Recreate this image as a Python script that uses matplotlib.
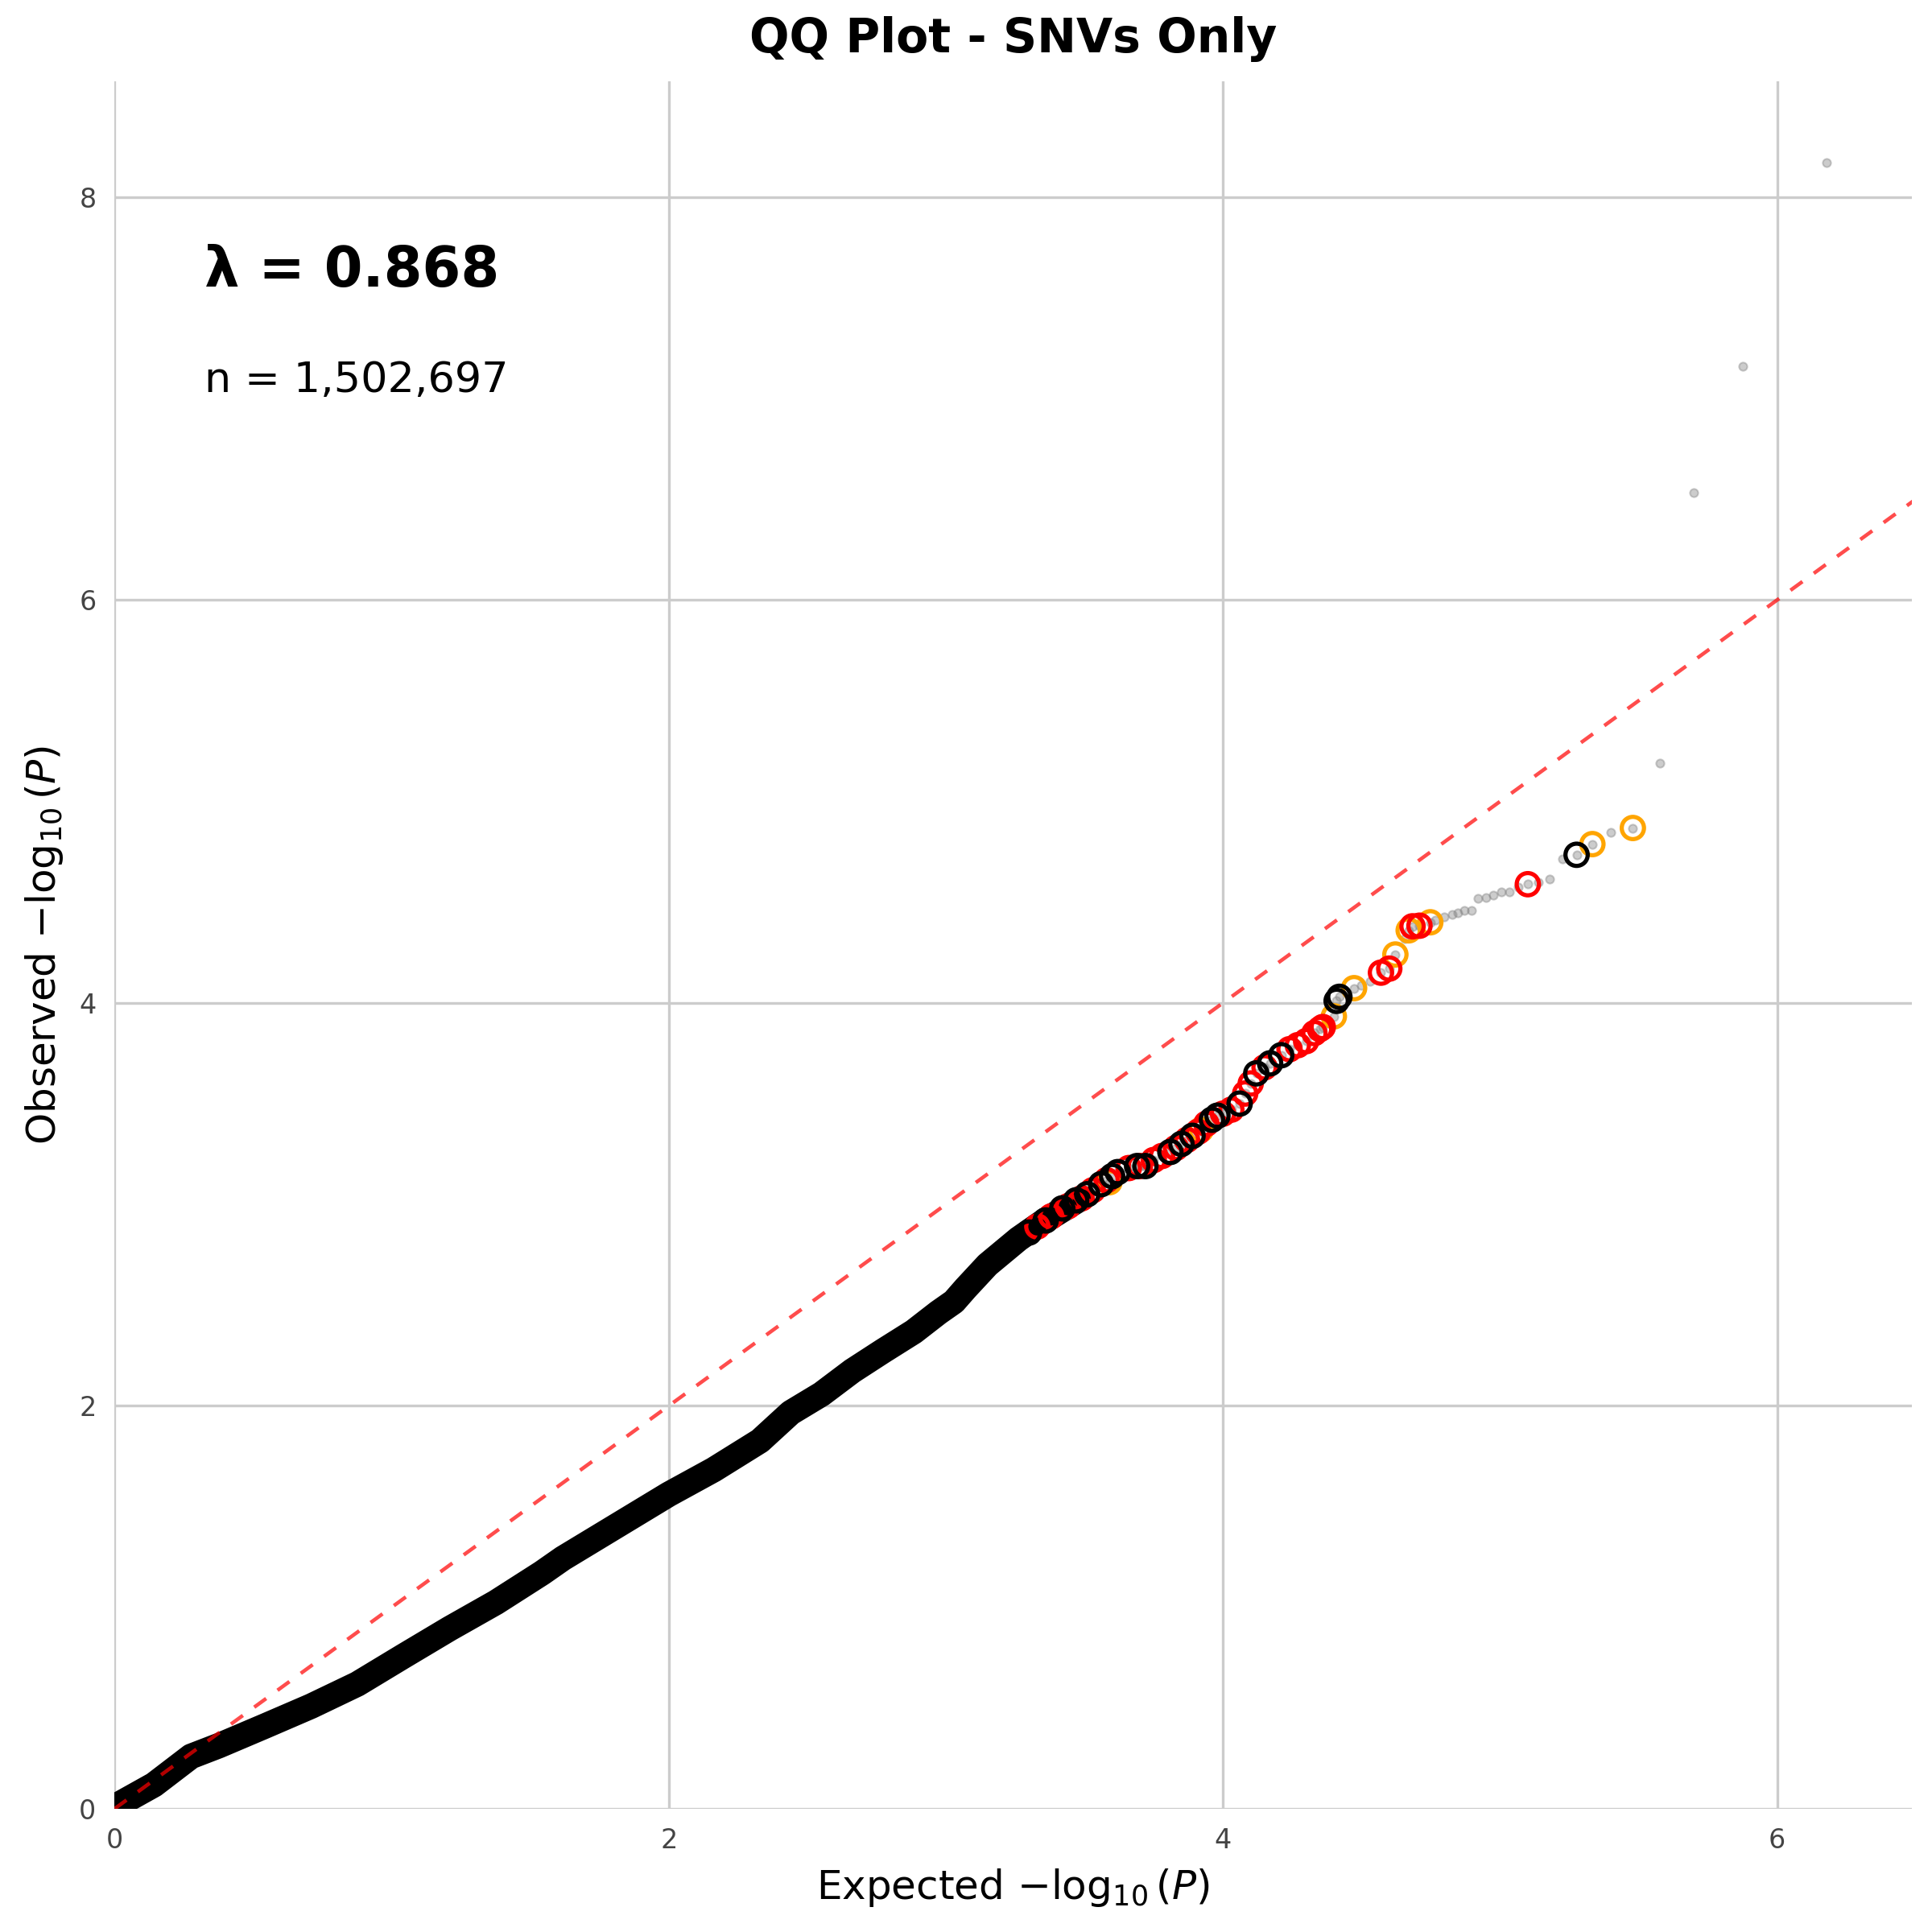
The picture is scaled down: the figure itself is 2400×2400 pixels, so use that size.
import matplotlib.pyplot as plt

# dense part of the QQ curve (expected, observed), read along the band centre
band_x = [0.0, 0.142, 0.276, 0.376, 0.542, 0.709, 0.876, 1.042, 1.209, 1.376, 1.542, 1.618,
          2.0, 2.162, 2.329, 2.44, 2.551, 2.662, 2.773, 2.884, 2.973, 3.029, 3.071, 3.15,
          3.262, 3.359, 3.485]
band_y = [0.01, 0.119, 0.26, 0.313, 0.41, 0.509, 0.619, 0.757, 0.894, 1.024, 1.17, 1.243,
          1.561, 1.683, 1.826, 1.966, 2.058, 2.173, 2.272, 2.368, 2.463, 2.517, 2.583, 2.70,
          2.828, 2.921, 3.028]

# tail points (grey dots)
gray_x = [4.50, 4.53, 4.656, 4.765, 4.798, 4.826, 4.848, 4.87, 4.896, 4.92, 4.948, 4.976,
          5.003, 5.033, 5.064, 5.137, 5.178, 5.226, 5.40, 5.578, 5.700, 5.876, 6.178]
gray_y = [4.087, 4.107, 4.32, 4.41, 4.426, 4.44, 4.446, 4.457, 4.46, 4.519, 4.523, 4.535,
          4.55, 4.55, 4.573, 4.60, 4.615, 4.716, 4.846, 5.19, 6.533, 7.158, 8.17]

# highlighted points
black_x = [3.30, 3.36, 3.42, 3.47, 3.51, 3.56, 3.60, 3.62, 3.69, 3.72, 3.81, 3.85, 3.89,
           3.96, 3.98, 4.06, 4.12, 4.17, 4.21, 4.41, 4.42, 5.276]
black_y = [2.86, 2.92, 2.98, 3.02, 3.05, 3.10, 3.14, 3.16, 3.19, 3.19, 3.26, 3.30, 3.34,
           3.42, 3.44, 3.50, 3.65, 3.70, 3.74, 4.01, 4.03, 4.735]
red_x = [3.33, 3.38, 3.44, 3.49, 3.53, 3.58, 3.66, 3.70, 3.75, 3.78, 3.83, 3.87, 3.91, 3.94,
         4.00, 4.03, 4.08, 4.10, 4.15, 4.24, 4.27, 4.30, 4.33, 4.35, 4.36, 4.57, 4.60,
         4.684, 4.709, 5.10]
red_y = [2.89, 2.94, 2.99, 3.03, 3.07, 3.12, 3.18, 3.19, 3.22, 3.24, 3.28, 3.32, 3.36, 3.40,
         3.45, 3.47, 3.55, 3.60, 3.68, 3.77, 3.79, 3.81, 3.85, 3.87, 3.88, 4.15, 4.17,
         4.38, 4.383, 4.589]
orange_x = [3.59, 3.92, 4.40, 4.473, 4.622, 4.67, 4.748, 5.333, 5.479]
orange_y = [3.11, 3.37, 3.933, 4.073, 4.24, 4.36, 4.40, 4.788, 4.868]

lambda_gc = 0.868
n_snv = 1502697
xticks = [0, 2, 4, 6]
yticks = [0, 2, 4, 6, 8]

fig, ax = plt.subplots(figsize=(8, 8), dpi=300)
fig.subplots_adjust(left=0.0593, right=0.9896, bottom=0.0638, top=0.958)

ax.plot(band_x, band_y, color="black", lw=7.6, solid_capstyle="round",
        solid_joinstyle="round", zorder=3)
for xs, ys in [(gray_x, gray_y), (black_x, black_y), (red_x, red_y), (orange_x, orange_y)]:
    ax.scatter(xs, ys, s=6, c="gray", alpha=0.4, linewidths=0.5, zorder=2)

ax.scatter(orange_x, orange_y, s=44, facecolors="none", edgecolors="orange", linewidths=1.25, zorder=4)
ax.scatter(red_x, red_y, s=44, facecolors="none", edgecolors="red", linewidths=1.25, zorder=4)
ax.scatter(black_x, black_y, s=44, facecolors="none", edgecolors="black", linewidths=1.25, zorder=5)

ax.plot([0, 7], [0, 7], color="red", alpha=0.7, lw=1.1, dashes=(4, 3.8), zorder=6)

ax.set_xlim(0, 6.486)
ax.set_ylim(0, 8.575)
ax.set_xticks(xticks)
ax.set_yticks(yticks)
ax.grid(True, color="#cccccc", lw=0.8)
ax.set_axisbelow(True)
for s in ax.spines.values():
    s.set_visible(False)
ax.tick_params(length=0, pad=5.5, labelsize=8, labelcolor="#444444")

ax.text(0.05, 0.881, f"λ = {lambda_gc:.3f}", transform=ax.transAxes,
        fontsize=16.5, fontweight="bold", va="baseline")
ax.text(0.05, 0.820, f"n = {n_snv:,}", transform=ax.transAxes,
        fontsize=12.6, va="baseline")

ax.set_title("QQ Plot - SNVs Only", fontsize=14, fontweight="bold", pad=8.6)
ax.set_xlabel(r"Expected $-\log_{10}(P)$", fontsize=12)
ax.set_ylabel(r"Observed $-\log_{10}(P)$", fontsize=12)

plt.savefig("out.png")
